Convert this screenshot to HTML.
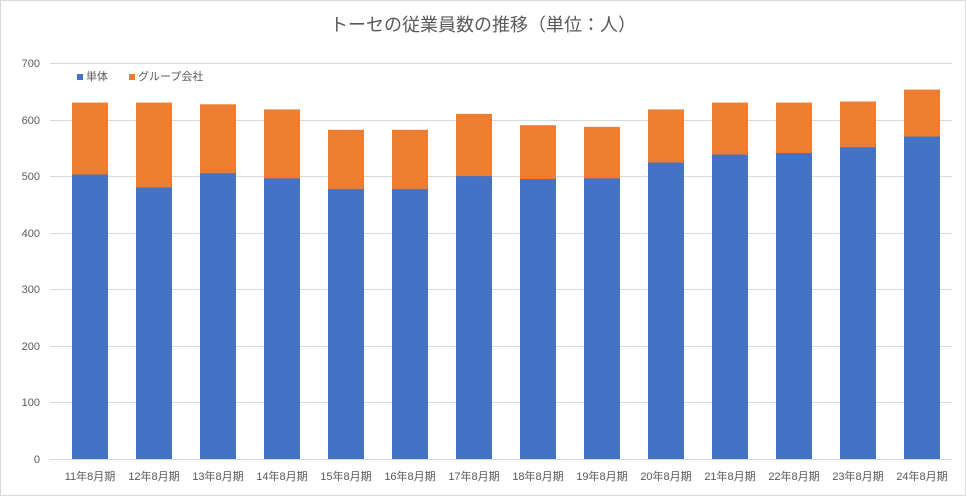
<!DOCTYPE html><html><head><meta charset="utf-8"><style>body{margin:0;background:#fff}svg{display:block}text{font-family:"Liberation Sans","Noto Sans CJK JP",sans-serif;fill:#595959}</style></head><body>
<svg width="966" height="496" xmlns="http://www.w3.org/2000/svg">
<rect x="0.5" y="0.5" width="965" height="495" fill="#fff" stroke="#d9d9d9"/>
<text x="483" y="31" font-size="18" text-anchor="middle" fill="#595959">トーセの従業員数の推移（単位：人）</text>
<g stroke="#d9d9d9" stroke-width="1">
<line x1="50" x2="952" y1="63.5" y2="63.5"/><line x1="50" x2="952" y1="120.5" y2="120.5"/><line x1="50" x2="952" y1="176.5" y2="176.5"/><line x1="50" x2="952" y1="233.5" y2="233.5"/><line x1="50" x2="952" y1="289.5" y2="289.5"/><line x1="50" x2="952" y1="346.5" y2="346.5"/><line x1="50" x2="952" y1="402.5" y2="402.5"/><line x1="50" x2="952" y1="459.5" y2="459.5"/>
</g>
<g font-size="11" text-anchor="end">
<text x="40" y="67">700</text><text x="40" y="124">600</text><text x="40" y="180">500</text><text x="40" y="237">400</text><text x="40" y="293">300</text><text x="40" y="350">200</text><text x="40" y="406">100</text><text x="40" y="463">0</text>
</g>
<rect x="77" y="74" width="6" height="6" fill="#4472c4"/><text x="86" y="80" font-size="11">単体</text>
<rect x="129" y="74" width="6" height="6" fill="#ed7d31"/><text x="138" y="80" font-size="11">グループ会社</text>
<g fill="#ed7d31">
<rect x="72" y="102.6" width="36" height="356.4"/>
<rect x="136" y="102.6" width="36" height="356.4"/>
<rect x="200" y="104.3" width="36" height="354.7"/>
<rect x="264" y="109.4" width="36" height="349.6"/>
<rect x="328" y="129.8" width="36" height="329.2"/>
<rect x="392" y="129.8" width="36" height="329.2"/>
<rect x="456" y="113.9" width="36" height="345.1"/>
<rect x="520" y="125.2" width="36" height="333.8"/>
<rect x="584" y="126.9" width="36" height="332.1"/>
<rect x="648" y="109.4" width="36" height="349.6"/>
<rect x="712" y="102.6" width="36" height="356.4"/>
<rect x="776" y="102.6" width="36" height="356.4"/>
<rect x="840" y="101.5" width="36" height="357.5"/>
<rect x="904" y="89.6" width="36" height="369.4"/>
</g>
<g fill="#4472c4">
<rect x="72" y="174.5" width="36" height="284.5"/>
<rect x="136" y="187.5" width="36" height="271.5"/>
<rect x="200" y="173.3" width="36" height="285.7"/>
<rect x="264" y="178.4" width="36" height="280.6"/>
<rect x="328" y="189.2" width="36" height="269.8"/>
<rect x="392" y="189.2" width="36" height="269.8"/>
<rect x="456" y="176.1" width="36" height="282.9"/>
<rect x="520" y="179.0" width="36" height="280.0"/>
<rect x="584" y="178.4" width="36" height="280.6"/>
<rect x="648" y="162.6" width="36" height="296.4"/>
<rect x="712" y="154.6" width="36" height="304.4"/>
<rect x="776" y="153.0" width="36" height="306.0"/>
<rect x="840" y="147.3" width="36" height="311.7"/>
<rect x="904" y="136.6" width="36" height="322.4"/>
</g>
<g font-size="11" text-anchor="middle">
<text x="90" y="480">11年8月期</text><text x="154" y="480">12年8月期</text><text x="218" y="480">13年8月期</text><text x="282" y="480">14年8月期</text><text x="346" y="480">15年8月期</text><text x="410" y="480">16年8月期</text><text x="474" y="480">17年8月期</text><text x="538" y="480">18年8月期</text><text x="602" y="480">19年8月期</text><text x="666" y="480">20年8月期</text><text x="730" y="480">21年8月期</text><text x="794" y="480">22年8月期</text><text x="858" y="480">23年8月期</text><text x="922" y="480">24年8月期</text>
</g>
</svg></body></html>
